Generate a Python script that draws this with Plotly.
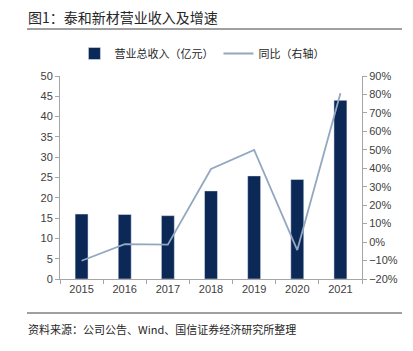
import plotly.graph_objects as go

years = ["2015", "2016", "2017", "2018", "2019", "2020", "2021"]
revenue = [16.0, 15.9, 15.6, 21.7, 25.4, 24.5, 44.0]
yoy = [-10.1, -1.1, -1.4, 39.6, 50.0, -4.3, 80.6]
left_ticks = list(range(0, 55, 5))
right_ticks = list(range(-20, 100, 10))
right_labels = [("−" + str(-v) if v < 0 else str(v)) + "%" for v in right_ticks]

CJK = "Noto Sans CJK SC"
LAT = "Liberation Sans"
TICK_COLOR = "#404040"
AXIS_COLOR = "#a6a6a6"

fig = go.Figure()
fig.add_trace(go.Bar(
    x=years, y=revenue, name="营业总收入（亿元）",
    marker=dict(color="#0b2857"), width=0.3, yaxis="y"))
fig.add_trace(go.Scatter(
    x=years, y=yoy, name="同比（右轴）", mode="lines",
    line=dict(color="#93a8c0", width=1.8), yaxis="y2"))

W, H = 413, 351
L, R, T, B = 60, 51, 76, 72
pw, ph = W - L - R, H - T - B

def px_x(px):
    return (px - L) / pw

def px_y(py):
    return (H - B - py) / ph

fig.update_layout(
    width=W, height=H,
    margin=dict(l=L, r=R, t=T, b=B),
    paper_bgcolor="white", plot_bgcolor="white",
    showlegend=True,
    legend=dict(orientation="h", x=0.47, xanchor="center", y=px_y(39), yanchor="top",
                font=dict(family=CJK, size=11, color="#262626"),
                itemwidth=30, bgcolor="rgba(0,0,0,0)", tracegroupgap=0),
    xaxis=dict(type="category", showline=True, linecolor=AXIS_COLOR, linewidth=1,
               ticks="outside", tickson="boundaries", ticklen=4, tickcolor=AXIS_COLOR,
               tickfont=dict(family=LAT, size=11, color=TICK_COLOR), showgrid=False),
    yaxis=dict(range=[0, 50], tickvals=left_ticks, showline=True, linecolor=AXIS_COLOR,
               ticks="outside", ticklen=4, tickcolor=AXIS_COLOR, showgrid=False,
               zeroline=False,
               tickfont=dict(family=LAT, size=11, color=TICK_COLOR)),
    yaxis2=dict(range=[-20, 90], tickmode="array", tickvals=right_ticks, ticktext=right_labels,
                overlaying="y", side="right", showline=True, linecolor=AXIS_COLOR,
                ticks="outside", ticklen=4, tickcolor=AXIS_COLOR, showgrid=False,
                zeroline=False,
                tickfont=dict(family=LAT, size=11, color=TICK_COLOR)),
    shapes=[
        dict(type="line", xref="paper", yref="paper", x0=px_x(27), x1=px_x(402),
             y0=px_y(29), y1=px_y(29), line=dict(color="#404040", width=1)),
        dict(type="line", xref="paper", yref="paper", x0=px_x(27), x1=px_x(402),
             y0=px_y(313), y1=px_y(313), line=dict(color="#404040", width=1)),
    ],
    annotations=[
        dict(text="图1：泰和新材营业收入及增速", xref="paper", yref="paper",
             x=px_x(26), y=px_y(17), xanchor="left", yanchor="middle", showarrow=False,
             font=dict(family=CJK, size=14, color="#262626")),
        dict(text="资料来源：公司公告、Wind、国信证券经济研究所整理", xref="paper", yref="paper",
             x=px_x(26), y=px_y(329), xanchor="left", yanchor="middle", showarrow=False,
             font=dict(family=CJK, size=11, color="#262626")),
    ],
)

fig.write_html("out.html")
